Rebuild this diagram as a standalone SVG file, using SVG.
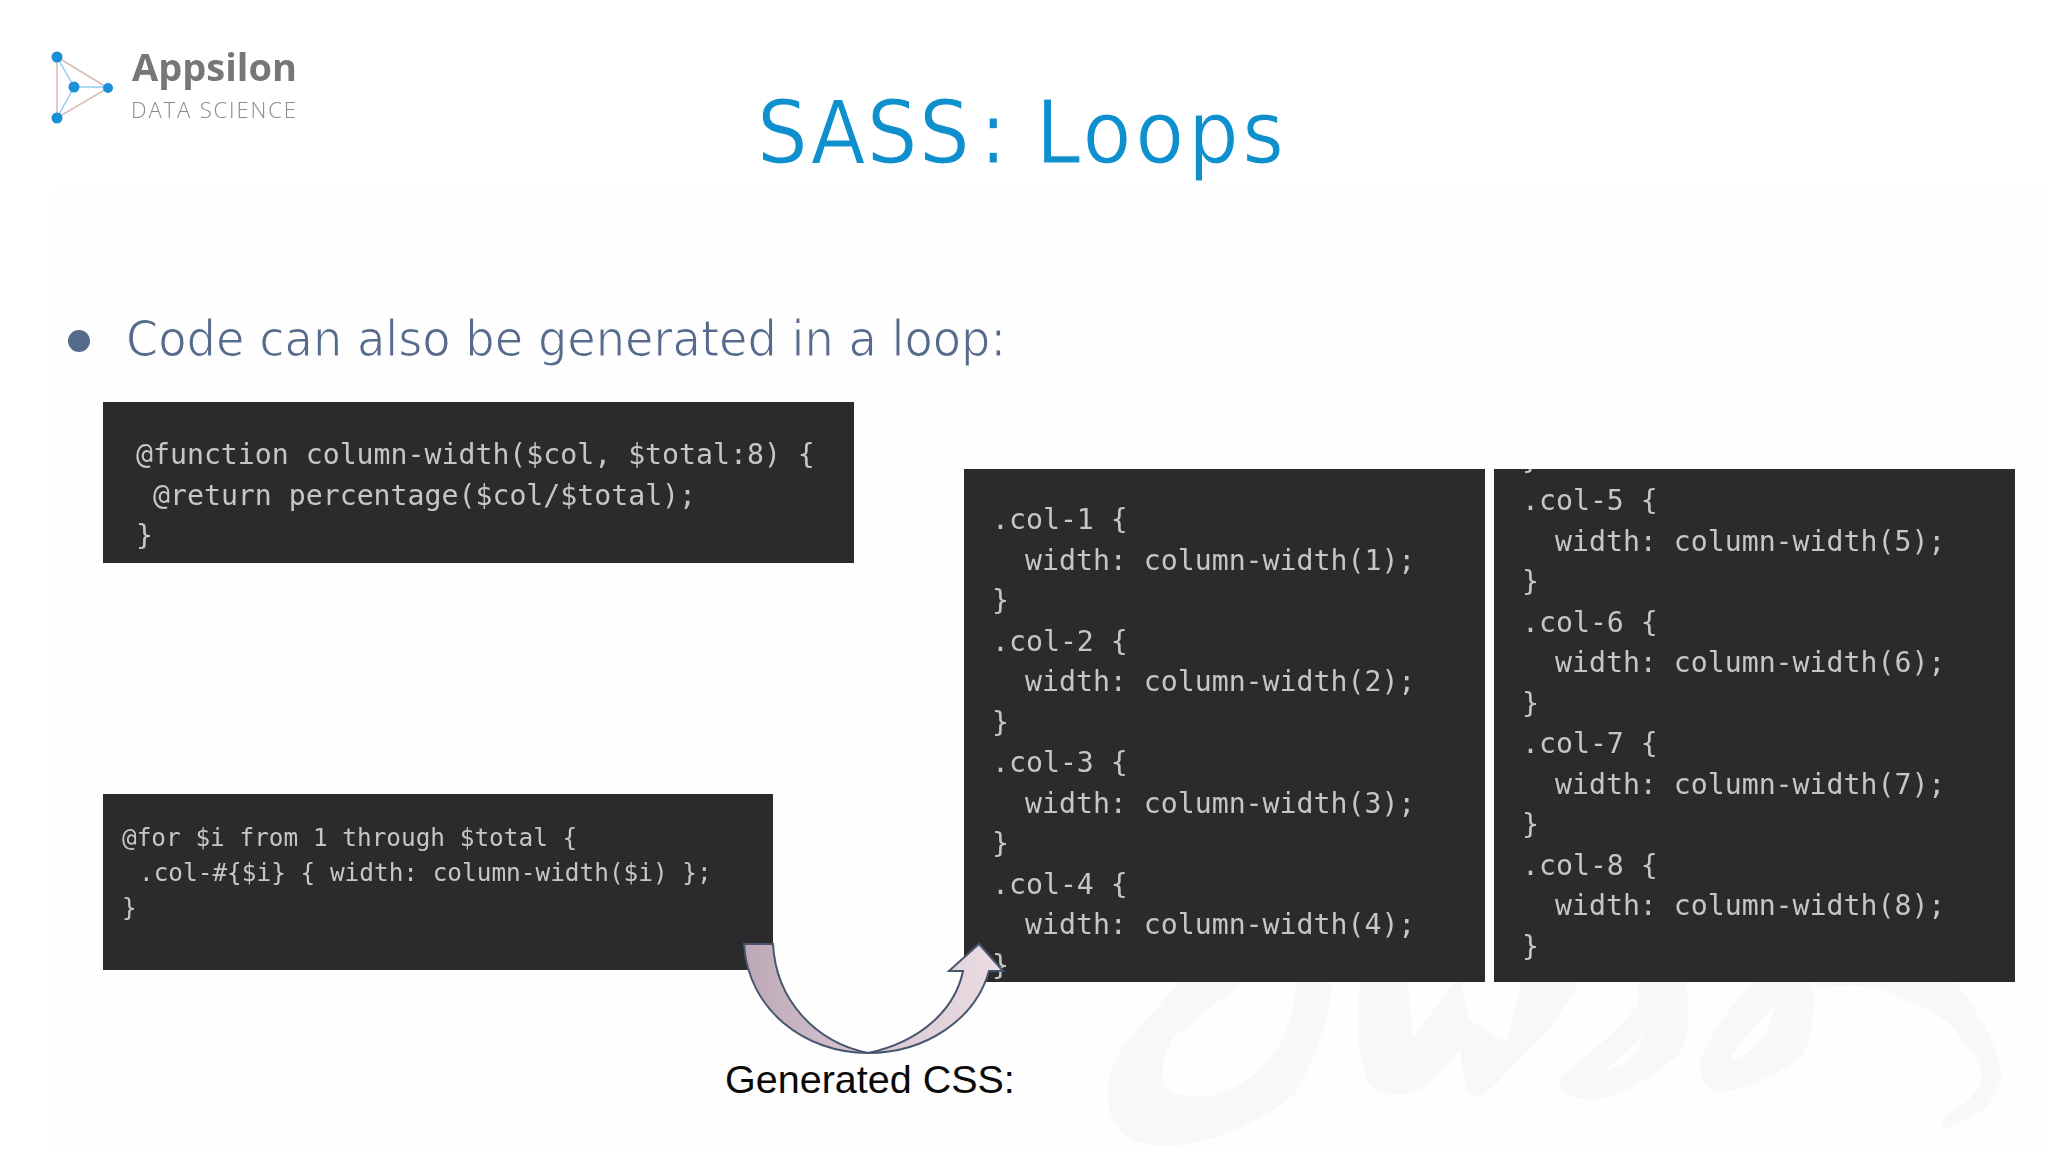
<svg xmlns="http://www.w3.org/2000/svg" width="2048" height="1152" viewBox="0 0 2048 1152">
<style>
.panel{fill:#2b2b2d}
.code{font-family:"DejaVu Sans Mono","Liberation Mono",monospace;fill:#c6c6c4;white-space:pre;filter:url(#soft)}
.c28{font-size:28.2px}
.c24{font-size:24.4px}
.wm{fill:#f9f7fa;fill-rule:evenodd;filter:url(#soft)}
.link{stroke:#d9b9b5;stroke-width:1.5;fill:none}
.dot{fill:#1b8fd8}
.thin{font-family:"DejaVu Sans",sans-serif;stroke:#fefefe;paint-order:normal}
</style>
<defs>
<filter id="soft" x="-5%" y="-20%" width="110%" height="140%"><feGaussianBlur stdDeviation="0.6"/></filter>
<linearGradient id="arrowFill" x1="744" y1="0" x2="1004" y2="0" gradientUnits="userSpaceOnUse"><stop offset="0" stop-color="#bda8b6"/><stop offset="0.5" stop-color="#d8c8d2"/><stop offset="1" stop-color="#ecdde4"/></linearGradient>
<clipPath id="b3"><rect x="964" y="469" width="521" height="513"/></clipPath>
<clipPath id="b4"><rect x="1494" y="469" width="521" height="513"/></clipPath>
</defs>
<rect width="2048" height="1152" fill="#ffffff"/>
<rect x="50" y="190" width="1998" height="962" fill="#fefefe"/>
<g id="watermark" class="wm">
<path d="M1185,975 C1140,1030 1117,1043 1108,1083 C1105,1115 1115,1145 1165,1146 C1215,1146 1270,1115 1296,1093 C1320,1050 1330,1010 1333,975 L1296,975 C1296,1010 1285,1040 1271,1057 C1250,1085 1215,1100 1191,1096 C1170,1095 1160,1085 1163,1070 C1165,1050 1175,1030 1185,1030 C1205,1010 1235,990 1253,975 Z"/>
<path d="M1361,975 C1355,1020 1358,1065 1370,1085 C1378,1098 1395,1097 1420,1090 C1440,1075 1452,1060 1460,1050 C1462,1070 1465,1095 1475,1097 C1490,1098 1510,1065 1549,1030 C1565,1005 1578,990 1582,975 L1524,975 L1506,1043 L1469,1020 L1460,975 L1413,1037 L1407,975 Z"/>
<path d="M1636,975 L1639,1003 C1620,1030 1580,1060 1561,1077 C1555,1095 1575,1101 1599,1099 C1625,1095 1665,1070 1682,1050 C1690,1030 1690,1000 1685,975 Z M1645,1033 C1635,1045 1615,1062 1605,1070 C1625,1068 1640,1050 1645,1033 Z"/>
<path d="M1759,975 C1735,1000 1705,1040 1700,1063 C1698,1080 1710,1092 1722,1092 C1745,1090 1785,1070 1802,1057 C1812,1040 1817,1005 1811,975 Z M1774,1007 C1765,1015 1735,1045 1731,1060 C1745,1058 1770,1040 1774,1007 Z"/>
<path d="M1815,988 C1850,985 1870,985 1882,990 C1920,1005 1950,1020 1957,1033 C1970,1050 1985,1065 1981,1080 C1975,1100 1955,1110 1944,1117 L1941,1130 C1965,1122 1985,1110 1987,1107 C1998,1090 2002,1080 2001,1070 C1995,1040 1975,1005 1950,975 L1820,975 Z"/>
</g>
<g id="logo">
<path class="link" d="M57,57L108,88L57,118Z"/>
<path d="M57,57L74,87L57,118M74,87H108" fill="none" stroke="#8fd0f2" stroke-width="1.5"/>
<circle class="dot" cx="57" cy="57" r="5.5"/><circle class="dot" cx="74" cy="87" r="5.5"/><circle class="dot" cx="108" cy="88" r="5"/><circle class="dot" cx="57" cy="118" r="5.5"/>
<text x="132" y="81" font-family="'Open Sans',sans-serif" font-weight="700" font-size="37" fill="#757779" textLength="165" lengthAdjust="spacingAndGlyphs" filter="url(#soft)">Appsilon</text>
<text x="131" y="118" font-family="'Open Sans',sans-serif" font-weight="300" font-size="22" fill="#8a8a8c" textLength="165" lengthAdjust="spacing" filter="url(#soft)">DATA SCIENCE</text>
</g>
<g id="title"><text class="thin" transform="translate(757,163) scale(0.92,1)" font-size="87" fill="#0e90cf" stroke-width="1.1"><tspan x="0" letter-spacing="1.5">SASS</tspan><tspan x="242">:</tspan><tspan x="303"> </tspan><tspan x="303" letter-spacing="4">Loops</tspan></text></g>
<g id="bullet">
<circle cx="79" cy="341" r="11" fill="#566a8c"/>
<text class="thin" x="126" y="356" font-size="50" fill="#566a8c" stroke-width="1.2" textLength="880" lengthAdjust="spacingAndGlyphs">Code can also be generated in a loop:</text>
</g>
<g id="code-function">
<rect class="panel" x="103" y="402" width="751" height="161"/>
<text class="code c28" x="136" y="464">@function column-width($col, $total:8) {</text>
<text class="code c28" x="153" y="505">@return percentage($col/$total);</text>
<text class="code c28" x="136" y="545">}</text>
</g>
<g id="code-for">
<rect class="panel" x="103" y="794" width="670" height="176"/>
<text class="code c24" x="122" y="846">@for $i from 1 through $total {</text>
<text class="code c24" x="139" y="881">.col-#{$i} { width: column-width($i) };</text>
<text class="code c24" x="122" y="916">}</text>
</g>
<g id="code-output-1">
<rect class="panel" x="964" y="469" width="521" height="513"/>
<g clip-path="url(#b3)">
<text class="code c28" x="992" y="529">.col-1 {</text><text class="code c28" x="1025" y="570">width: column-width(1);</text><text class="code c28" x="992" y="610">}</text>
<text class="code c28" x="992" y="651">.col-2 {</text><text class="code c28" x="1025" y="691">width: column-width(2);</text><text class="code c28" x="992" y="732">}</text>
<text class="code c28" x="992" y="772">.col-3 {</text><text class="code c28" x="1025" y="813">width: column-width(3);</text><text class="code c28" x="992" y="853">}</text>
<text class="code c28" x="992" y="894">.col-4 {</text><text class="code c28" x="1025" y="934">width: column-width(4);</text><text class="code c28" x="992" y="975">}</text>
</g>
</g>
<g id="code-output-2">
<rect class="panel" x="1494" y="469" width="521" height="513"/>
<g clip-path="url(#b4)">
<text class="code c28" x="1522" y="469">}</text>
<text class="code c28" x="1522" y="510">.col-5 {</text><text class="code c28" x="1555" y="551">width: column-width(5);</text><text class="code c28" x="1522" y="591">}</text>
<text class="code c28" x="1522" y="632">.col-6 {</text><text class="code c28" x="1555" y="672">width: column-width(6);</text><text class="code c28" x="1522" y="713">}</text>
<text class="code c28" x="1522" y="753">.col-7 {</text><text class="code c28" x="1555" y="794">width: column-width(7);</text><text class="code c28" x="1522" y="834">}</text>
<text class="code c28" x="1522" y="875">.col-8 {</text><text class="code c28" x="1555" y="915">width: column-width(8);</text><text class="code c28" x="1522" y="956">}</text>
</g>
</g>
<g id="connectors">
<path d="M744,944 L773,944 C776,1000 815,1042 868,1053 C920,1042 955,1010 963,971 L949,971 L979,944 L1003,971 L989,971 C975,1020 925,1053 868,1053 C805,1053 748,1010 744,944 Z" fill="url(#arrowFill)" stroke="#46566f" stroke-width="2" stroke-linejoin="miter"/>
</g>
<g id="caption"><text x="725" y="1093" font-family="'Liberation Sans',Arial,sans-serif" font-size="39.5" fill="#0a0a0a">Generated CSS:</text></g>
</svg>
